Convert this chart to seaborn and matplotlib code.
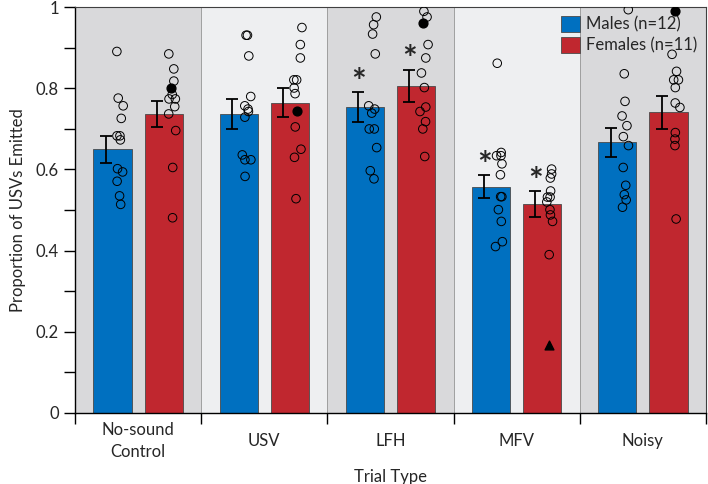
import numpy as np
import pandas as pd
import matplotlib
matplotlib.use('Agg')
import matplotlib.pyplot as plt
import seaborn as sns

# ================================================
# Data
# ================================================
trial_types = ['No-sound\nControl', 'USV', 'LFH', 'MFV', 'Noisy']
groups = ['Males (n=12)', 'Females (n=11)']

male_mean = [0.650, 0.737, 0.754, 0.558, 0.667]
female_mean = [0.737, 0.765, 0.806, 0.515, 0.741]
male_sem = [0.033, 0.037, 0.037, 0.028, 0.035]
female_sem = [0.033, 0.035, 0.040, 0.031, 0.040]

male_points = [
    [0.891, 0.776, 0.757, 0.726, 0.683, 0.683, 0.673, 0.602, 0.594, 0.571, 0.535, 0.514],
    [0.931, 0.931, 0.880, 0.780, 0.757, 0.749, 0.743, 0.729, 0.636, 0.624, 0.624, 0.583],
    [0.976, 0.957, 0.934, 0.885, 0.757, 0.749, 0.739, 0.700, 0.700, 0.654, 0.597, 0.577],
    [0.862, 0.642, 0.634, 0.634, 0.614, 0.587, 0.533, 0.533, 0.501, 0.472, 0.422, 0.410],
    [0.994, 0.836, 0.768, 0.732, 0.708, 0.681, 0.659, 0.605, 0.561, 0.538, 0.525, 0.507],
]
female_points = [
    [0.885, 0.848, 0.818, 0.785, 0.774, 0.774, 0.755, 0.737, 0.696, 0.605, 0.481],
    [0.950, 0.908, 0.875, 0.821, 0.821, 0.801, 0.787, 0.705, 0.650, 0.630, 0.528],
    [0.990, 0.976, 0.908, 0.875, 0.838, 0.802, 0.754, 0.743, 0.718, 0.700, 0.632],
    [0.601, 0.589, 0.579, 0.547, 0.532, 0.532, 0.520, 0.501, 0.488, 0.472, 0.390],
    [0.884, 0.842, 0.821, 0.821, 0.802, 0.764, 0.753, 0.691, 0.675, 0.659, 0.478],
]
# one highlighted female (filled marker)
female_marked = [0.800, 0.745, 0.961, 0.168, 0.990]
female_marked_shape = ['o', 'o', 'o', '^', 'o']

male_star = [False, False, True, True, False]
female_star = [False, False, True, True, False]

# ================================================
# Setup
# ================================================
sns.set_theme(style='ticks')
plt.rcParams['font.family'] = ['Lato', 'DejaVu Sans']

blue = '#0070C0'
red = '#C0272F'
bg_colors = ['#D9D9DB', '#EEEFF1']

df = pd.DataFrame({
    'trial': trial_types * 2,
    'sex': [groups[0]] * 5 + [groups[1]] * 5,
    'mean': male_mean + female_mean,
})

fig, ax = plt.subplots(figsize=(7.08, 4.84), dpi=100)
fig.subplots_adjust(left=0.106, right=0.997, top=0.985, bottom=0.147)

# alternating panel backgrounds
for i in range(len(trial_types)):
    ax.axvspan(i - 0.5, i + 0.5, facecolor=bg_colors[i % 2],
               edgecolor='#9a9a9a', linewidth=0.6, zorder=0)

sns.barplot(
    data=df, x='trial', y='mean', hue='sex',
    palette=[blue, red], saturation=1, width=0.81, gap=0.25,
    edgecolor='#4a4a4a', linewidth=0.6, errorbar=None,
    ax=ax, zorder=2
)

rng = np.random.default_rng(3)
sems_all = [male_sem, female_sem]
points_all = [male_points, female_points]
stars_all = [male_star, female_star]
bar_containers = list(ax.containers)

for k, container in enumerate(bar_containers):
    centers = np.array([b.get_x() + b.get_width() / 2 for b in container])
    heights = np.array([b.get_height() for b in container])
    sems = np.array(sems_all[k])

    ax.errorbar(centers - 0.053, heights, yerr=sems, fmt='none',
                ecolor='black', elinewidth=1.3, capsize=4.5, capthick=1.3,
                zorder=4)

    for j, pts in enumerate(points_all[k]):
        xs = centers[j] + 0.063 + rng.uniform(-0.035, 0.035, len(pts))
        ax.scatter(xs, pts, s=38, facecolors='none', edgecolors='black',
                   linewidths=0.7, zorder=5)
        if stars_all[k][j]:
            ax.text(centers[j] - 0.053, heights[j] + sems[j] - 0.016, '*',
                    ha='center', va='bottom', fontsize=25, fontweight='bold',
                    zorder=6)

fem_centers = [b.get_x() + b.get_width() / 2 for b in bar_containers[1]]
for j, (val, shape) in enumerate(zip(female_marked, female_marked_shape)):
    ax.scatter(fem_centers[j] + 0.055, val, s=40, marker=shape,
               color='black', zorder=6)

# axes
ax.set_xlim(-0.5, len(trial_types) - 0.5)
ax.set_ylim(0, 1)
ax.set_yticks(np.arange(0, 1.01, 0.1))
ax.set_yticklabels(['0', '', '0.2', '', '0.4', '', '0.6', '', '0.8', '', '1'])
ax.tick_params(axis='y', length=8, width=1, labelsize=12, color='black')

ax.set_xticks(range(len(trial_types)))
ax.set_xticklabels(trial_types, fontsize=12, linespacing=1.45)
for lab in ax.get_xticklabels():
    lab.set_va('center')
ax.tick_params(axis='x', which='major', length=0, pad=20)
ax.set_xticks(np.arange(-0.5, len(trial_types), 1), minor=True)
ax.tick_params(axis='x', which='minor', length=8, width=1, color='black')

for side in ['left', 'bottom']:
    ax.spines[side].set_color('black')
    ax.spines[side].set_linewidth(1)
for side in ['top', 'right']:
    ax.spines[side].set_color('#404040')
    ax.spines[side].set_linewidth(0.8)

ax.set_ylabel('Proportion of USVs Emitted', fontsize=12, labelpad=7)
ax.set_xlabel('Trial Type', fontsize=12, labelpad=7)

ax.legend(loc='upper right', frameon=False, fontsize=12,
          handlelength=1.1, handleheight=1.1, handletextpad=0.4,
          labelspacing=0.3, borderaxespad=0.2, borderpad=0.3)

plt.savefig('out.png', dpi=100)
